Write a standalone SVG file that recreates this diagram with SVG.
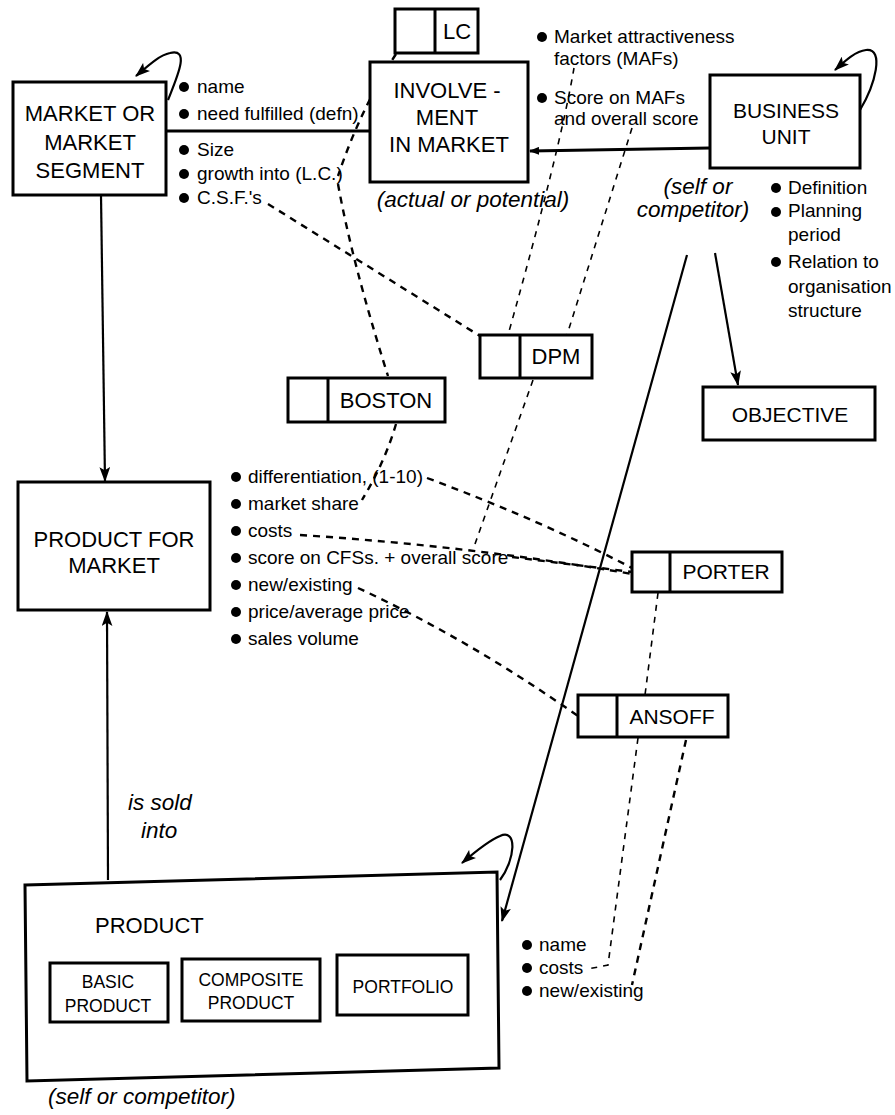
<svg xmlns="http://www.w3.org/2000/svg" width="895" height="1115" viewBox="0 0 895 1115">
<style>
text{font-family:"Liberation Sans",Arial,sans-serif;fill:#000}
.h{font-size:22px;text-anchor:middle}
.hs{font-size:17.5px;text-anchor:middle}
.b{font-size:19px}
.i{font-size:22.5px;font-style:italic}
.box{fill:#fff;stroke:#000;stroke-width:3}
.sol{fill:none;stroke:#000;stroke-width:2.2}
.thk{fill:none;stroke:#000;stroke-width:3.2}
.d{fill:none;stroke:#000;stroke-width:2.4;stroke-dasharray:7 6}
.dt{fill:none;stroke:#000;stroke-width:1.6;stroke-dasharray:6 6}
.dot{fill:#000}
</style>
<defs>
<marker id="ar" viewBox="0 0 14 10" refX="13" refY="5" markerWidth="15" markerHeight="11" markerUnits="userSpaceOnUse" orient="auto">
<path d="M0,0 L14,5 L0,10 L3,5 z" fill="#000"/>
</marker>
<marker id="as" viewBox="0 0 10 8" refX="9" refY="4" markerWidth="10" markerHeight="8" markerUnits="userSpaceOnUse" orient="auto">
<path d="M0,0 L10,4 L0,8 z" fill="#000"/>
</marker>
</defs>

<g id="connectors">
<path class="thk" d="M166,131 L370,131"/>
<path class="thk" d="M710,148 L530,151" marker-end="url(#as)"/>
<path class="sol" d="M101,195 L105,481" marker-end="url(#ar)"/>
<path class="sol" d="M108,880 L107,612" marker-end="url(#ar)"/>
<path class="sol" d="M715,253 L738,385" marker-end="url(#ar)"/>
<path class="sol" d="M687,255 L502,921" marker-end="url(#ar)"/>
<path class="sol" d="M168,100 C178,75 190,48 170,53 C160,55 150,64 136,76" marker-end="url(#ar)"/>
<path class="sol" d="M860,110 C875,85 885,48 866,50 C856,51 846,60 835,70" marker-end="url(#ar)"/>
<path class="sol" d="M500,880 C515,860 518,828 500,836 C490,840 476,851 462,863" marker-end="url(#ar)"/>
<path class="d" d="M396,54 Q360,110 338,176"/>
<path class="d" d="M338,184 Q352,262 388,376"/>
<path class="d" d="M268,204 L480,336"/>
<path class="dt" d="M574,68 Q560,150 508,335"/>
<path class="dt" d="M632,128 L567,335"/>
<path class="d" d="M396,424 Q385,462 362,500"/>
<path class="dt" d="M533,380 L475,544"/>
<path class="d" d="M427,478 Q540,520 632,568"/>
<path class="d" d="M300,535 Q470,546 632,574"/>
<path class="d" d="M512,557 L632,572"/>
<path class="d" d="M358,588 Q470,640 578,716"/>
<path class="dt" d="M658,593 L645,695"/>
<path class="dt" d="M638,738 L608,965 L588,969"/>
<path class="d" d="M686,740 L632,985"/>
</g>

<g id="market">
<rect class="box" x="13" y="82" width="153" height="113"/>
<text class="h" x="90" y="121">MARKET OR</text>
<text class="h" x="90" y="150">MARKET</text>
<text class="h" x="90" y="178">SEGMENT</text>
</g>
<g id="market-attrs">
<circle class="dot" cx="184" cy="87" r="5"/><text class="b" x="197" y="93">name</text>
<circle class="dot" cx="184" cy="114" r="5"/><text class="b" x="197" y="120">need fulfilled (defn)</text>
<circle class="dot" cx="184" cy="150" r="5"/><text class="b" x="197" y="156">Size</text>
<circle class="dot" cx="184" cy="174" r="5"/><text class="b" x="197" y="180">growth into (L.C.)</text>
<circle class="dot" cx="184" cy="198" r="5"/><text class="b" x="197" y="204">C.S.F.'s</text>
</g>

<g id="involvement">
<rect class="box" x="370" y="62" width="158" height="120"/>
<text class="h" x="447" y="98">INVOLVE -</text>
<text class="h" x="447" y="125">MENT</text>
<text class="h" x="449" y="152">IN MARKET</text>
<text class="i" x="473" y="207" text-anchor="middle">(actual or potential)</text>
</g>
<g id="involvement-attrs">
<circle class="dot" cx="542" cy="37" r="5"/><text class="b" x="554" y="43">Market attractiveness</text>
<text class="b" x="554" y="65">factors (MAFs)</text>
<circle class="dot" cx="542" cy="98" r="5"/><text class="b" x="554" y="104">Score on MAFs</text>
<text class="b" x="554" y="125">and overall score</text>
</g>

<g id="lc">
<rect class="box" x="395" y="9" width="83" height="44"/>
<line x1="435" y1="9" x2="435" y2="53" stroke="#000" stroke-width="3"/>
<text class="h" x="457" y="39">LC</text>
</g>

<g id="business-unit">
<rect class="box" x="710" y="75" width="150" height="93"/>
<text class="h" x="786" y="118" style="font-size:21px">BUSINESS</text>
<text class="h" x="786" y="144" style="font-size:21px">UNIT</text>
<text class="i" x="698" y="194" text-anchor="middle">(self or</text>
<text class="i" x="693" y="217" text-anchor="middle">competitor)</text>
</g>
<g id="business-attrs">
<circle class="dot" cx="776" cy="188" r="5"/><text class="b" x="788" y="194">Definition</text>
<circle class="dot" cx="776" cy="212" r="5"/><text class="b" x="788" y="217">Planning</text>
<text class="b" x="788" y="241">period</text>
<circle class="dot" cx="776" cy="262" r="5"/><text class="b" x="788" y="268">Relation to</text>
<text class="b" x="788" y="293">organisation</text>
<text class="b" x="788" y="317">structure</text>
</g>

<g id="objective">
<rect class="box" x="703" y="387" width="172" height="53"/>
<text class="h" x="790" y="422" style="font-size:21px">OBJECTIVE</text>
</g>

<g id="dpm">
<rect class="box" x="480" y="335" width="112" height="43"/>
<line x1="520" y1="335" x2="520" y2="378" stroke="#000" stroke-width="3"/>
<text class="h" x="556" y="364">DPM</text>
</g>

<g id="boston">
<rect class="box" x="288" y="378" width="157" height="44"/>
<line x1="328" y1="378" x2="328" y2="422" stroke="#000" stroke-width="3"/>
<text class="h" x="386" y="408">BOSTON</text>
</g>

<g id="product-for-market">
<rect class="box" x="18" y="482" width="192" height="128"/>
<text class="h" x="114" y="547">PRODUCT FOR</text>
<text class="h" x="114" y="573">MARKET</text>
</g>
<g id="pfm-attrs">
<circle class="dot" cx="236" cy="477" r="5"/><text class="b" x="248" y="483">differentiation, (1-10)</text>
<circle class="dot" cx="236" cy="504" r="5"/><text class="b" x="248" y="510">market share</text>
<circle class="dot" cx="236" cy="531" r="5"/><text class="b" x="248" y="537">costs</text>
<circle class="dot" cx="236" cy="558" r="5"/><text class="b" x="248" y="564">score on CFSs. + overall score</text>
<circle class="dot" cx="236" cy="585" r="5"/><text class="b" x="248" y="591">new/existing</text>
<circle class="dot" cx="236" cy="612" r="5"/><text class="b" x="248" y="618">price/average price</text>
<circle class="dot" cx="236" cy="639" r="5"/><text class="b" x="248" y="645">sales volume</text>
</g>

<g id="porter">
<rect class="box" x="632" y="552" width="150" height="40"/>
<line x1="670" y1="552" x2="670" y2="592" stroke="#000" stroke-width="3"/>
<text class="h" x="726" y="579" style="font-size:21px">PORTER</text>
</g>

<g id="ansoff">
<rect class="box" x="578" y="695" width="150" height="42"/>
<line x1="617" y1="695" x2="617" y2="737" stroke="#000" stroke-width="3"/>
<text class="h" x="672" y="724" style="font-size:21px">ANSOFF</text>
</g>

<g id="sold-label">
<text class="i" x="128" y="810">is sold</text>
<text class="i" x="141" y="838">into</text>
</g>

<g id="product">
<path class="box" d="M25,885 L497,872 L499,1068 L27,1081 Z"/>
<text x="95" y="933" style="font-size:22px">PRODUCT</text>
<rect class="box" x="50" y="963" width="118" height="59"/>
<text class="hs" x="108" y="988">BASIC</text>
<text class="hs" x="108" y="1012">PRODUCT</text>
<rect class="box" x="182" y="959" width="138" height="62"/>
<text class="hs" x="251" y="986">COMPOSITE</text>
<text class="hs" x="251" y="1009">PRODUCT</text>
<rect class="box" x="337" y="955" width="131" height="60"/>
<text class="hs" x="403" y="993">PORTFOLIO</text>
<text class="i" x="48" y="1104">(self or competitor)</text>
</g>
<g id="product-attrs">
<circle class="dot" cx="527" cy="945" r="5"/><text class="b" x="539" y="951">name</text>
<circle class="dot" cx="527" cy="968" r="5"/><text class="b" x="539" y="974">costs</text>
<circle class="dot" cx="527" cy="991" r="5"/><text class="b" x="539" y="997">new/existing</text>
</g>
</svg>
